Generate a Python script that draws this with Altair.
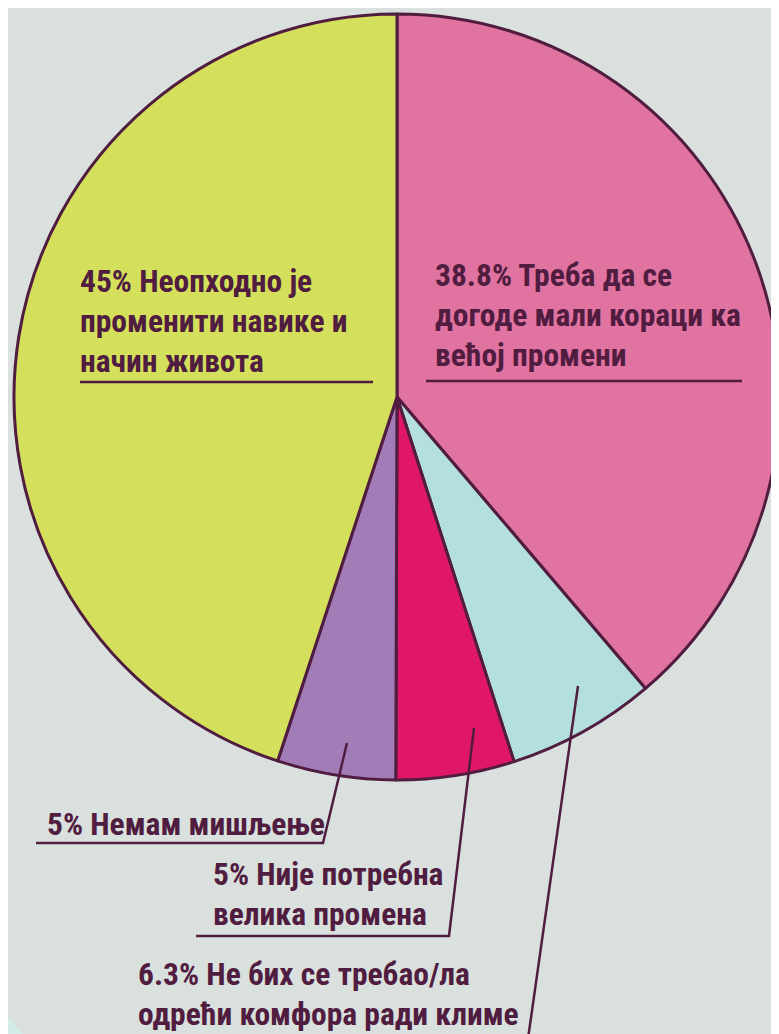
import altair as alt
import pandas as pd

# ---- data ----
categories = [
    "Треба да се догоде мали кораци ка већој промени",
    "Не бих се требао/ла одрећи комфора ради климе",
    "Није потребна велика промена",
    "Немам мишљење",
    "Неопходно је променити навике и начин живота",
]
values = [38.8, 6.3, 5.0, 5.0, 45.0]
label_lines = [
    "38.8% Треба да се\nдогоде мали кораци ка\nвећој промени",
    "6.3% Не бих се требао/ла\nодрећи комфора ради климе",
    "5% Није потребна\nвелика промена",
    "5% Немам мишљење",
    "45% Неопходно је\nпроменити навике и\nначин живота",
]

# ---- styles / layout (page pixel coordinates) ----
colors = ["#e073a0", "#b3e0de", "#e01768", "#a27cb7", "#d4e05c"]
BG = "#d9e0dd"
INK = "#501c40"
FONT = "'Roboto Condensed', 'Open Sans Condensed', sans-serif"
W, H = 763, 1026
CX, CY, R = 397, 397, 383

label_pos = [(435, 286), (138, 985), (213, 885), (47, 835), (80, 292)]
leaders = [
    [(426, 381), (742, 381)],
    [(578, 686), (527, 1046)],
    [(474, 728), (449, 936), (196, 936)],
    [(347, 743), (323, 843), (36, 843)],
    [(80, 382), (373, 382)],
]

pie_df = pd.DataFrame({"cat": categories, "value": values, "idx": list(range(len(values)))})
lab_df = pd.DataFrame({
    "text": label_lines,
    "x": [p[0] for p in label_pos],
    "y": [p[1] for p in label_pos],
})
rows = []
for g, pts in enumerate(leaders):
    for s, (x, y) in enumerate(pts):
        rows.append({"g": g, "s": s, "x": x, "y": y})
lead_df = pd.DataFrame(rows)

xs = alt.Scale(domain=[8, 8 + W], range=[0, W], nice=False, zero=False)
ys = alt.Scale(domain=[8, 8 + H], range=[0, H], nice=False, zero=False)

corner = alt.Chart(pd.DataFrame({"a": [0]})).mark_arc(
    radius=418, theta=0, theta2=6.2832, color="#d3ece7"
).encode(x=alt.value(-308), y=alt.value(1292))

pie = alt.Chart(pie_df).mark_arc(
    radius=R, stroke=INK, strokeWidth=3, strokeJoin="round"
).encode(
    theta=alt.Theta("value:Q", stack=True),
    order=alt.Order("idx:Q", sort="ascending"),
    color=alt.Color("cat:N", scale=alt.Scale(domain=categories, range=colors), legend=None),
    x=alt.value(CX - 8),
    y=alt.value(CY - 8),
)

lines = alt.Chart(lead_df).mark_line(color=INK, strokeWidth=2.5, strokeCap="butt").encode(
    x=alt.X("x:Q", scale=xs, axis=None),
    y=alt.Y("y:Q", scale=ys, axis=None),
    detail="g:N",
    order="s:Q",
)

labels = alt.Chart(lab_df).mark_text(
    align="left", baseline="alphabetic", lineBreak="\n", lineHeight=40,
    font=FONT, fontSize=31.5, fontWeight="bold", color=INK,
).encode(
    x=alt.X("x:Q", scale=xs, axis=None),
    y=alt.Y("y:Q", scale=ys, axis=None),
    text="text:N",
)

chart = alt.layer(corner, pie, lines, labels).properties(
    width=W, height=H, background=BG, padding=0,
    autosize=alt.AutoSizeParams(type="none"),
).configure_view(stroke=None)

chart.save("out.html", embed_options={"renderer": "svg", "actions": False})
